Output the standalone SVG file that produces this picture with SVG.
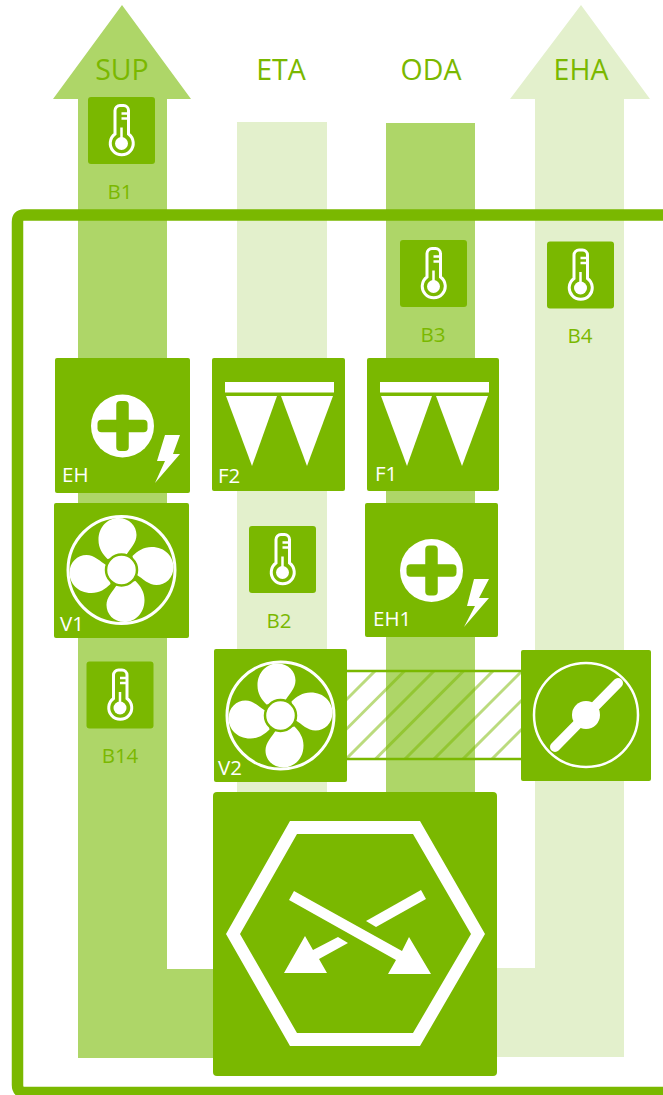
<svg xmlns="http://www.w3.org/2000/svg" xmlns:xlink="http://www.w3.org/1999/xlink" width="663" height="1095" viewBox="0 0 663 1095">
<style>
.box{fill:#7ab800}
.mid{fill:#aed668}
.light{fill:#e3f0cc}
.w{fill:#fff}
text{font-family:"Open Sans","Noto Sans","Liberation Sans",sans-serif}
.head{font-size:28.500px;fill:#7ab800;text-anchor:middle}
.lab{font-size:20.500px;fill:#7ab800;text-anchor:middle}
.tag{font-size:20.500px;fill:#fff}
.hatch line{stroke:#7ab800;stroke-width:3;opacity:.5}
</style>
<defs>
<g id="thermo">
<rect class="box" x="-33.500" y="-33.500" width="67" height="67" rx="3"/>
<path d="M-6.500,-20 a5,5 0 0 1 5,-5 h3.500 a5,5 0 0 1 5,5 V3.500 A11.500,11.500 0 1 1 -6.500,3.500 Z" fill="none" stroke="#fff" stroke-width="3"/>
<circle class="w" cx="0" cy="13" r="6.500"/>
<path d="M0,-3 V10 M0,-17 H6 M0,-12 H6" stroke="#fff" stroke-width="2.500" fill="none"/>
</g>
<path id="blade" class="w" d="M-14,-11 C-19,-16 -23,-22 -23,-30 C-23,-44 -13,-52 -3,-52 C8,-52 15,-44 15,-35 C15,-27 9,-22 4,-14 Z"/>
<g id="fan">
<circle cx="0" cy="0" r="53.500" fill="none" stroke="#fff" stroke-width="3"/>
<use href="#blade"/>
<use href="#blade" transform="rotate(90)"/>
<use href="#blade" transform="rotate(180)"/>
<use href="#blade" transform="rotate(270)"/>
<circle class="w" cx="0" cy="0" r="15.500" stroke="#7ab800" stroke-width="2.500"/>
</g>
<g id="heat">
<circle class="w" cx="0" cy="0" r="31.500"/>
<rect class="box" x="-25" y="-6.250" width="50" height="12.500" rx="4"/>
<rect class="box" x="-6.250" y="-25" width="12.500" height="50" rx="4"/>
</g>
<g id="filter">
<rect class="w" x="13" y="24" width="109" height="10.500"/>
<polygon class="w" points="14,38 65,38 40,108"/>
<polygon class="w" points="69,38 121,38 95,108"/>
</g>
<clipPath id="hclip"><rect x="347" y="671" width="174" height="88"/></clipPath>
</defs>

<g id="connectors">
<path id="flow-sup" class="mid" d="M122,5 L191,99 H167 V969 H220 V1058 H78 V99 H53 Z"/>
<rect id="flow-eta" class="light" x="237" y="122" width="90" height="680"/>
<rect id="flow-oda" class="mid" x="386" y="123" width="89" height="680"/>
<path id="flow-eha" class="light" d="M581,5 L650,99 H624 V1057 H490 V968 H535 V99 H510 Z"/>
<path id="frame" d="M663,215 H24 Q17.500,215 17.500,222 V1085 Q17.500,1092.500 25,1092.500 H663" fill="none" stroke="#7ab800" stroke-width="11.500"/>
<g id="damper-link">
<g class="hatch" clip-path="url(#hclip)">
<line x1="375" y1="671" x2="287" y2="759"/>
<line x1="404.500" y1="671" x2="316.500" y2="759"/>
<line x1="434" y1="671" x2="346" y2="759"/>
<line x1="463.500" y1="671" x2="375.500" y2="759"/>
<line x1="493" y1="671" x2="405" y2="759"/>
<line x1="522" y1="671" x2="434" y2="759"/>
<line x1="551" y1="671" x2="463" y2="759"/>
<line x1="580" y1="671" x2="492" y2="759"/>
</g>
<path d="M347,671 H521 M347,759 H521" stroke="#7ab800" stroke-width="2.500" fill="none"/>
</g>
</g>

<text class="head" x="122" y="80">SUP</text>
<text class="head" x="281" y="80">ETA</text>
<text class="head" x="431" y="80">ODA</text>
<text class="head" x="581" y="80">EHA</text>

<g id="B1"><use href="#thermo" x="121.500" y="130.500"/><text class="lab" x="120" y="199">B1</text></g>
<g id="B3"><use href="#thermo" x="433.500" y="273.500"/><text class="lab" x="433" y="342">B3</text></g>
<g id="B4"><use href="#thermo" x="580.500" y="275"/><text class="lab" x="580" y="343">B4</text></g>
<g id="B2"><use href="#thermo" x="282.500" y="559.500"/><text class="lab" x="279" y="628">B2</text></g>
<g id="B14"><use href="#thermo" x="120" y="695"/><text class="lab" x="120" y="763">B14</text></g>

<g id="EH">
<rect class="box" x="55" y="358" width="135" height="135" rx="2"/>
<use href="#heat" x="122.500" y="426"/>
<polygon class="w" points="165,435 180,435 173,454 180,454 155,483 165,461 157,461"/>
<text class="tag" x="62" y="482">EH</text>
</g>
<g id="F2">
<rect class="box" x="212" y="358" width="133" height="133" rx="2"/>
<use href="#filter" x="212" y="358"/>
<text class="tag" x="218" y="483">F2</text>
</g>
<g id="F1">
<rect class="box" x="367" y="358" width="132" height="133" rx="2"/>
<use href="#filter" x="367" y="358"/>
<text class="tag" x="375" y="481">F1</text>
</g>
<g id="V1">
<rect class="box" x="54" y="503" width="135" height="135" rx="2"/>
<use href="#fan" x="121.500" y="570"/>
<text class="tag" x="60" y="631">V1</text>
</g>
<g id="EH1">
<rect class="box" x="365" y="503" width="133" height="134" rx="2"/>
<use href="#heat" x="431.500" y="570.500"/>
<polygon class="w" points="474,579 489,579 479,598 489,598 464,627 475,606 467,606"/>
<text class="tag" x="373" y="626">EH1</text>
</g>
<g id="V2">
<rect class="box" x="214" y="649" width="133" height="133" rx="2"/>
<use href="#fan" x="280.500" y="715.500"/>
<text class="tag" x="218" y="775">V2</text>
</g>
<g id="damper">
<rect class="box" x="521" y="650" width="130" height="131" rx="2"/>
<circle cx="586" cy="715" r="52" fill="none" stroke="#fff" stroke-width="2.500"/>
<line x1="555" y1="747" x2="618" y2="683" stroke="#fff" stroke-width="10" stroke-linecap="round"/>
<circle class="w" cx="586" cy="715" r="14"/>
</g>
<g id="exchanger">
<rect class="box" x="213" y="792" width="284" height="284" rx="4"/>
<path class="w" fill-rule="evenodd" d="M290,821 H420 L485,934 L420,1046 H290 L226,934 Z M297,834 L240,934 L297,1033 H413 L471,934 L413,834 Z"/>
<polygon class="w" points="294,891 289,900 396,960 388,974 431,974 409,937 402,951"/>
<polygon class="w" points="421,890 426,899 376,927 366,921"/>
<polygon class="w" points="338,937 348,943 319,959 327,973 284,973 305,936 313,950"/>
</g>
</svg>
